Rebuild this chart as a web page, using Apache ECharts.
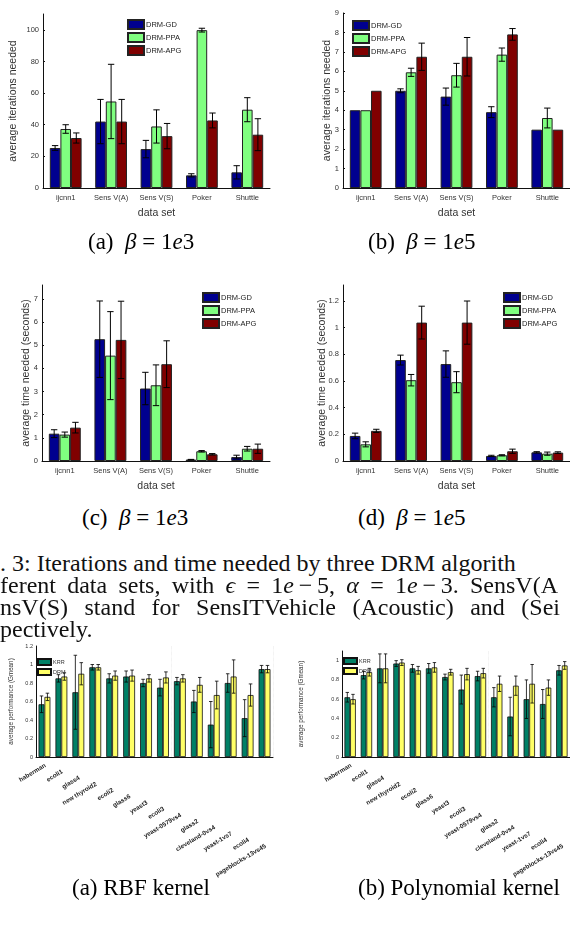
<!DOCTYPE html>
<html><head><meta charset="utf-8">
<script src="https://cdn.jsdelivr.net/npm/echarts/dist/echarts.min.js"></script>
<style>
html,body{margin:0;padding:0;background:#fff;width:570px;height:925px;overflow:hidden;}
.ch{position:absolute;}
.cap{position:absolute;font-family:"Liberation Serif","DejaVu Serif",serif;color:#000;white-space:nowrap;}
.line{position:absolute;left:0;font-family:"Liberation Serif",serif;font-size:24px;line-height:22px;color:#111;white-space:nowrap;text-align:justify;text-align-last:justify;}
</style></head>
<body>
<div id="ca" class="ch" style="left:0;top:0;width:285px;height:230px"></div>
<div id="cb" class="ch" style="left:285px;top:0;width:285px;height:230px"></div>
<div id="cc" class="ch" style="left:0;top:270px;width:285px;height:230px"></div>
<div id="cd" class="ch" style="left:285px;top:270px;width:285px;height:230px"></div>
<div id="ce" class="ch" style="left:0;top:630px;width:290px;height:260px"></div>
<div id="cf" class="ch" style="left:290px;top:630px;width:280px;height:260px"></div>

<div class="cap" style="left:88px;top:229px;font-size:23px">(a)&nbsp; <i>β</i> = 1<i>e</i>3</div>
<div class="cap" style="left:368px;top:229px;font-size:23px">(b)&nbsp; <i>β</i> = 1<i>e</i>5</div>
<div class="cap" style="left:82px;top:505px;font-size:23px">(c)&nbsp; <i>β</i> = 1<i>e</i>3</div>
<div class="cap" style="left:358px;top:505px;font-size:23px">(d)&nbsp; <i>β</i> = 1<i>e</i>5</div>

<div class="line" style="top:552px;width:515px">. 3: Iterations and time needed by three DRM algorith</div>
<div class="line" style="top:574px;width:558px">ferent data sets, with <i>ϵ</i> = 1<i>e</i>&thinsp;−&thinsp;5, <i>α</i> = 1<i>e</i>&thinsp;−&thinsp;3. SensV(A</div>
<div class="line" style="top:596px;width:560px">nsV(S) stand for SensITVehicle (Acoustic) and (Sei</div>
<div class="line" style="top:618px;text-align:left;text-align-last:left">pectively.</div>

<div class="cap" style="left:72px;top:875px;font-size:23px">(a) RBF kernel</div>
<div class="cap" style="left:358px;top:875px;font-size:23px">(b) Polynomial kernel</div>

<script>
// ---------- data: DRM algorithms ----------
const drmCats = ['ijcnn1', 'Sens V(A)', 'Sens V(S)', 'Poker', 'Shuttle'];
const drmNames = ['DRM-GD', 'DRM-PPA', 'DRM-APG'];

// (a) iterations, beta = 1e3
const iterA_GD = [25.3, 42, 24.6, 8, 9.9];
const iterA_GD_err = [1.5, 14, 5.5, 1, 4.2];
const iterA_PPA = [37.3, 54.7, 38.9, 99.8, 49.5];
const iterA_PPA_err = [2.7, 23.5, 10.5, 1.2, 7.6];
const iterA_APG = [31.6, 42, 32.8, 42.7, 33.7];
const iterA_APG_err = [3.2, 14, 8, 4.7, 10.1];

// (b) iterations, beta = 1e5
const iterB_GD = [4, 5, 4.7, 3.9, 3];
const iterB_GD_err = [0, 0.1, 0.44, 0.28, 0];
const iterB_PPA = [4, 5.95, 5.8, 6.86, 3.6];
const iterB_PPA_err = [0, 0.21, 0.61, 0.34, 0.51];
const iterB_APG = [5, 6.75, 6.75, 7.9, 3];
const iterB_APG_err = [0, 0.7, 0.99, 0.3, 0];

// (c) time, beta = 1e3
const timeC_GD = [1.18, 5.26, 3.13, 0.06, 0.17];
const timeC_GD_err = [0.17, 1.65, 0.7, 0.01, 0.08];
const timeC_PPA = [1.14, 4.55, 3.27, 0.42, 0.53];
const timeC_PPA_err = [0.11, 1.9, 0.88, 0.03, 0.1];
const timeC_APG = [1.44, 5.23, 4.18, 0.29, 0.53];
const timeC_APG_err = [0.23, 1.67, 1.01, 0.03, 0.2];

// (d) time, beta = 1e5
const timeD_GD = [0.188, 0.757, 0.727, 0.038, 0.065];
const timeD_GD_err = [0.021, 0.037, 0.099, 0.005, 0.005];
const timeD_PPA = [0.125, 0.606, 0.591, 0.043, 0.055];
const timeD_PPA_err = [0.019, 0.043, 0.079, 0.004, 0.012];
const timeD_APG = [0.226, 1.038, 1.038, 0.073, 0.063];
const timeD_APG_err = [0.012, 0.123, 0.162, 0.016, 0.006];

// ---------- data: KRR vs DRM ----------
const kCats = ['haberman', 'ecoli1', 'glass4', 'new thyroid2', 'ecoli2', 'glass6', 'yeast3', 'ecoli3',
  'yeast-0579vs4', 'glass2', 'cleveland-0vs4', 'yeast-1vs7', 'ecoli4', 'pageblocks-13vs45'];
const kNames = ['KRR', 'DRM'];
const rbf_KRR = [0.57, 0.85, 0.70, 0.97, 0.85, 0.87, 0.80, 0.75, 0.82, 0.60, 0.35, 0.80, 0.42, 0.95];
const rbf_KRR_err = [0.09, 0.04, 0.4, 0.03, 0.05, 0.06, 0.04, 0.09, 0.04, 0.12, 0.25, 0.1, 0.2, 0.04];
const rbf_DRM = [0.65, 0.87, 0.90, 0.97, 0.88, 0.88, 0.85, 0.86, 0.85, 0.78, 0.67, 0.87, 0.67, 0.95];
const rbf_DRM_err = [0.04, 0.04, 0.12, 0.03, 0.05, 0.06, 0.04, 0.06, 0.04, 0.08, 0.15, 0.18, 0.12, 0.04];
const poly_KRR = [0.62, 0.85, 0.92, 0.97, 0.92, 0.92, 0.83, 0.70, 0.84, 0.62, 0.42, 0.60, 0.55, 0.90];
const poly_KRR_err = [0.05, 0.04, 0.15, 0.03, 0.04, 0.05, 0.03, 0.15, 0.05, 0.1, 0.2, 0.2, 0.15, 0.05];
const poly_DRM = [0.60, 0.88, 0.92, 0.98, 0.90, 0.93, 0.88, 0.86, 0.87, 0.76, 0.74, 0.76, 0.72, 0.95];
const poly_DRM_err = [0.05, 0.04, 0.15, 0.03, 0.04, 0.05, 0.03, 0.06, 0.05, 0.08, 0.1, 0.2, 0.08, 0.04];

const drmColors = ['#00008f', '#80ff80', '#800000'];
const kColors = ['#008066', '#ffff66'];
const FONT = 'Liberation Sans, Arial, sans-serif';

function errorSeries(vals, errs, idx, n, gapFrac, capFrac, lw) {
  return {
    type: 'custom', silent: true, z: 5,
    data: vals.map((v, i) => [i, v - errs[i], v + errs[i]]),
    encode: { x: 0, y: [1, 2] },
    renderItem: function (params, api) {
      const i = api.value(0), lo = api.value(1), hi = api.value(2);
      if (hi - lo <= 0) return { type: 'group', children: [] };
      const band = api.size([1, 0])[0];
      const bw = band * (1 - gapFrac) / n;
      const p1 = api.coord([i, lo]), p2 = api.coord([i, hi]);
      const x = p1[0] + (idx - (n - 1) / 2) * bw;
      const c = bw * capFrac;
      const st = { stroke: '#000', lineWidth: lw, fill: null };
      return { type: 'group', children: [
        { type: 'line', shape: { x1: x, y1: p1[1], x2: x, y2: p2[1] }, style: st },
        { type: 'line', shape: { x1: x - c, y1: p1[1], x2: x + c, y2: p1[1] }, style: st },
        { type: 'line', shape: { x1: x - c, y1: p2[1], x2: x + c, y2: p2[1] }, style: st }
      ] };
    }
  };
}

function drmChart(id, cfg) {
  const ch = echarts.init(document.getElementById(id), null, { renderer: 'canvas' });
  const gap = 0.30;
  const series = [];
  cfg.vals.forEach((v, k) => {
    series.push({ name: drmNames[k], type: 'bar', data: v, barGap: '0%', barCategoryGap: '30%',
      itemStyle: { color: drmColors[k], borderColor: '#222', borderWidth: 1 } });
  });
  cfg.vals.forEach((v, k) => series.push(errorSeries(v, cfg.errs[k], k, 3, gap, 0.3, 1)));
  ch.setOption({
    animation: false,
    textStyle: { fontFamily: FONT },
    grid: cfg.grid,
    legend: { data: drmNames, orient: 'vertical', left: cfg.legend[0], top: cfg.legend[1],
      icon: 'rect', itemWidth: 16, itemHeight: 9, itemGap: 2,
      textStyle: { fontSize: 7.5, color: '#222', fontFamily: FONT, padding: [0, 0, 0, -3] } },
    xAxis: { type: 'category', data: drmCats,
      name: 'data set', nameLocation: 'middle', nameGap: 20, nameMoveOverlap: false,
      nameTextStyle: { fontSize: 10.5, color: '#333', fontFamily: FONT },
      axisLine: { lineStyle: { color: '#111', width: 1 } },
      axisTick: { show: false },
      axisLabel: { fontSize: 7.5, color: '#333', margin: 6, fontFamily: FONT } },
    yAxis: { type: 'value', min: 0, max: cfg.max, interval: cfg.interval,
      name: cfg.yname, nameLocation: 'middle', nameGap: cfg.nameGap, nameMoveOverlap: false,
      nameTextStyle: { fontSize: 10.5, color: '#333', fontFamily: FONT },
      axisLine: { show: true, lineStyle: { color: '#111', width: 1 } },
      axisTick: { show: true, inside: true, length: 2, lineStyle: { color: '#111' } },
      splitLine: { show: false },
      axisLabel: { fontSize: 7.5, color: '#333', margin: 4, showMaxLabel: cfg.showMax, fontFamily: FONT } },
    series: series
  });
}

drmChart('ca', { vals: [iterA_GD, iterA_PPA, iterA_APG], errs: [iterA_GD_err, iterA_PPA_err, iterA_APG_err],
  grid: { left: 42, right: 15, top: 14, bottom: 42 }, max: 110, interval: 20, showMax: false,
  yname: 'average iterations needed', nameGap: 24, legend: [122, 14] });
drmChart('cb', { vals: [iterB_GD, iterB_PPA, iterB_APG], errs: [iterB_GD_err, iterB_PPA_err, iterB_APG_err],
  grid: { left: 58, right: 0, top: 13, bottom: 42 }, max: 9, interval: 1, showMax: true,
  yname: 'average iterations needed', nameGap: 10, legend: [62, 15] });
drmChart('cc', { vals: [timeC_GD, timeC_PPA, timeC_APG], errs: [timeC_GD_err, timeC_PPA_err, timeC_APG_err],
  grid: { left: 42, right: 15, top: 15, bottom: 39 }, max: 7.6, interval: 1, showMax: false,
  yname: 'average time needed (seconds)', nameGap: 10, legend: [197, 17] });
drmChart('cd', { vals: [timeD_GD, timeD_PPA, timeD_APG], errs: [timeD_GD_err, timeD_PPA_err, timeD_APG_err],
  grid: { left: 58, right: 0, top: 15, bottom: 39 }, max: 1.32, interval: 0.2, showMax: false,
  yname: 'average time needed (seconds)', nameGap: 15, legend: [213, 17] });

// rotated, staggered category labels drawn at the category-axis positions
function tickLabelSeries(cats, fontSize, step) {
  return {
    type: 'custom', silent: true, z: 6, clip: false,
    data: cats.map((c, i) => [i, 0]),
    encode: { x: 0, y: 1 },
    renderItem: function (params, api) {
      const i = api.value(0);
      const p = api.coord([i, 0]);
      return { type: 'text', x: p[0] + 1, y: p[1] + 8 + i * step, rotation: Math.PI * 31 / 180,
        style: { text: cats[i], align: 'right', verticalAlign: 'middle',
          font: 'bold ' + fontSize + 'px ' + FONT, fill: '#222' } };
    }
  };
}

function krrChart(id, cfg) {
  const ch = echarts.init(document.getElementById(id), null, { renderer: 'canvas' });
  const gap = 0.3;
  const series = [];
  cfg.vals.forEach((v, k) => {
    series.push({ name: kNames[k], type: 'bar', data: v, barGap: '0%', barCategoryGap: '30%',
      itemStyle: { color: kColors[k], borderColor: '#111', borderWidth: 0.8 } });
  });
  cfg.vals.forEach((v, k) => series.push(errorSeries(v, cfg.errs[k], k, 2, gap, 0.3, 0.8)));
  series.push(tickLabelSeries(kCats, 6.3, 6.2));
  ch.setOption({
    animation: false,
    textStyle: { fontFamily: FONT },
    grid: cfg.grid,
    legend: { data: kNames, orient: 'vertical', left: cfg.legend[0], top: cfg.legend[1],
      icon: 'rect', itemWidth: 13, itemHeight: 6, itemGap: 2,
      textStyle: { fontSize: 5.5, color: '#333', fontFamily: FONT, padding: [0, 0, 0, -3] } },
    xAxis: { type: 'category', data: kCats,
      axisLine: { lineStyle: { color: '#111', width: 1 } },
      axisTick: { show: false },
      splitLine: { show: true, lineStyle: { color: '#ddd', type: 'dotted', width: 0.6 } },
      axisLabel: { show: false } },
    yAxis: { type: 'value', min: 0, max: cfg.max, interval: 0.2,
      name: 'average performance (Gmean)', nameLocation: 'middle', nameGap: cfg.nameGap, nameMoveOverlap: false,
      nameTextStyle: { fontSize: 6.3, color: '#333', fontFamily: FONT },
      axisLine: { show: true, lineStyle: { color: '#111', width: 1 } },
      axisTick: { show: false },
      splitLine: { show: false },
      axisLabel: { fontSize: 5.5, color: '#333', margin: 3, showMaxLabel: cfg.showMax, fontFamily: FONT,
        formatter: v => String(Math.round(v * 10) / 10) } },
    series: series
  });
}

krrChart('ce', { vals: [rbf_KRR, rbf_DRM], errs: [rbf_KRR_err, rbf_DRM_err],
  grid: { left: 34, right: 17, top: 16, bottom: 133 }, max: 1.2, showMax: true, nameGap: 22, legend: [32, 23] });
krrChart('cf', { vals: [poly_KRR, poly_DRM], errs: [poly_KRR_err, poly_DRM_err],
  grid: { left: 48, right: -7, top: 21, bottom: 133 }, max: 1.1, showMax: false, nameGap: 38, legend: [48, 22] });
</script>
</body></html>
